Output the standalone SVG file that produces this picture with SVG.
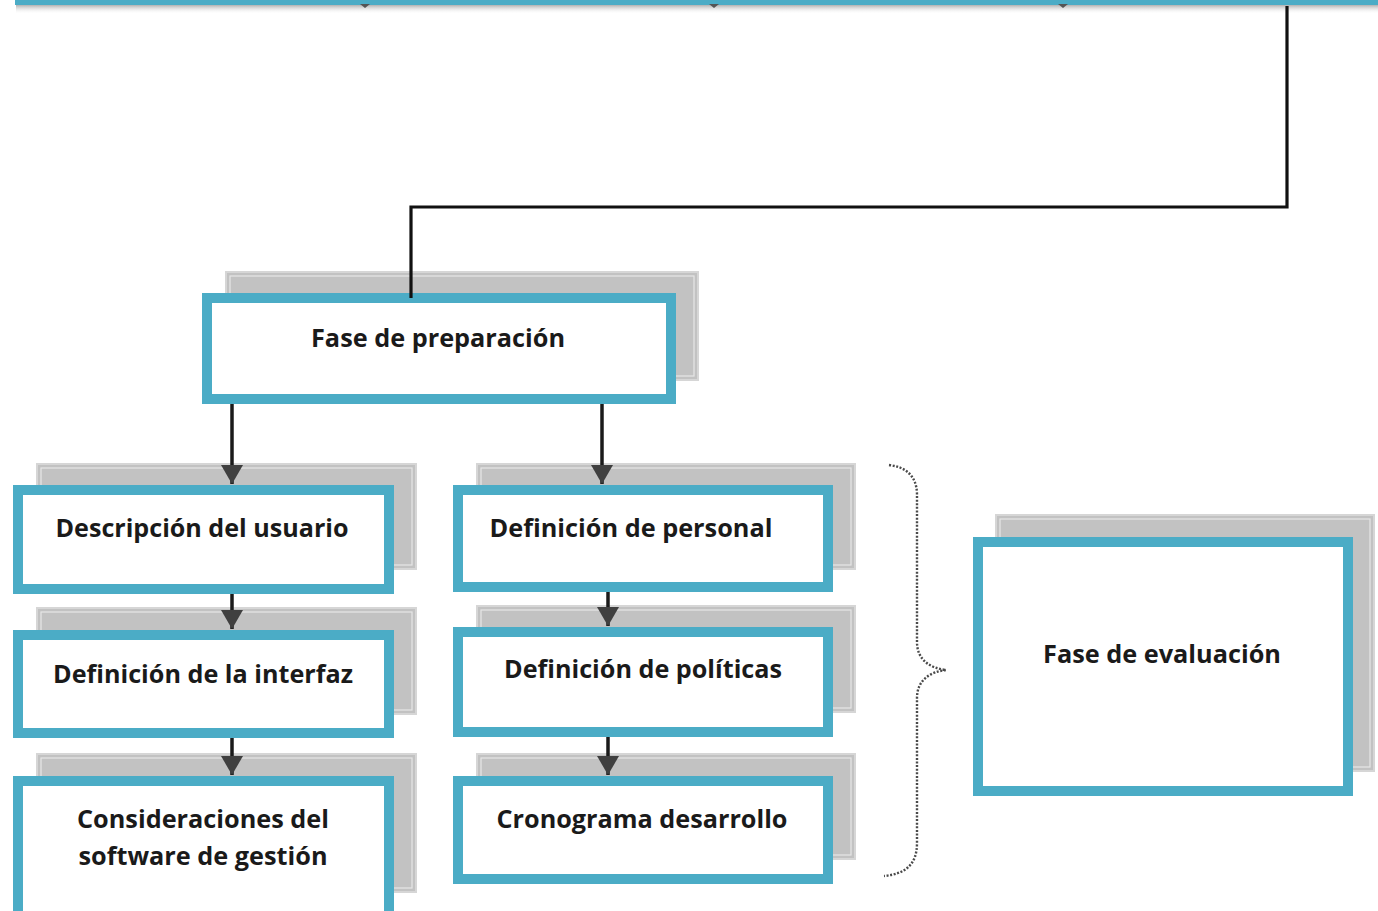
<svg xmlns="http://www.w3.org/2000/svg" width="1378" height="911" viewBox="0 0 1378 911">
<defs>
<style>
.sh{fill:#c2c2c2;stroke:#d6d6d6;stroke-width:2}
.shi{fill:none;stroke:#e6e6e6;stroke-width:1.2}
.bx{fill:#ffffff;stroke:#4bacc6;stroke-width:10}
.t{font-family:"Open Sans","Noto Sans","Liberation Sans",sans-serif;font-weight:700;font-size:25px;fill:#1a1a1a;text-anchor:middle}
.ln{fill:none;stroke:#111111;stroke-width:3.2}
.ar{fill:none;stroke:#1a1a1a;stroke-width:3.5}
.br{fill:none;stroke:#4a4a4a;stroke-width:2.4;stroke-dasharray:2 1.6}
</style>
<marker id="ah" markerUnits="userSpaceOnUse" markerWidth="22" markerHeight="24" viewBox="0 0 22 24" refX="20" refY="12" orient="auto">
<path d="M1,1 L20,12 L1,23 Z" fill="#404040"/>
</marker>
<linearGradient id="tg" x1="0" y1="0" x2="0" y2="1">
<stop offset="0" stop-color="#8a8a8a"/>
<stop offset="1" stop-color="#ffffff" stop-opacity="0"/>
</linearGradient>
</defs>
<rect width="1378" height="911" fill="#ffffff"/>

<g id="top-node">
<rect x="16" y="3" width="1362" height="11" fill="url(#tg)"/>
<rect x="18" y="-60" width="1380" height="62" fill="#ffffff" stroke="#4bacc6" stroke-width="6"/>
<path d="M360,4 L370,4 L365,8 Z M709,4 L719,4 L714,8 Z M1058,4 L1068,4 L1063,8 Z" fill="#555555"/>
</g>

<g id="fase-preparacion">
<rect class="sh" x="226" y="272" width="472" height="108"/>
<rect class="shi" x="230" y="276" width="464" height="100"/>
<rect class="bx" x="207" y="298" width="464" height="101"/>
<text class="t" x="438" y="347" textLength="254" lengthAdjust="spacingAndGlyphs">Fase de preparación</text>
</g>

<g id="descripcion-usuario">
<rect class="sh" x="37" y="464" width="379" height="105"/>
<rect class="shi" x="41" y="468" width="371" height="97"/>
<rect class="bx" x="18" y="490" width="371" height="99"/>
<text class="t" x="202" y="537" textLength="293" lengthAdjust="spacingAndGlyphs">Descripción del usuario</text>
</g>

<g id="definicion-interfaz">
<rect class="sh" x="37" y="608" width="379" height="106"/>
<rect class="shi" x="41" y="612" width="371" height="98"/>
<rect class="bx" x="18" y="635" width="371" height="98"/>
<text class="t" x="203" y="683" textLength="300" lengthAdjust="spacingAndGlyphs">Definición de la interfaz</text>
</g>

<g id="consideraciones-software">
<rect class="sh" x="37" y="754" width="379" height="138"/>
<rect class="shi" x="41" y="758" width="371" height="130"/>
<rect class="bx" x="18" y="781" width="371" height="140"/>
<text class="t" x="203" y="828" textLength="252" lengthAdjust="spacingAndGlyphs">Consideraciones del</text>
<text class="t" x="203" y="865" textLength="249" lengthAdjust="spacingAndGlyphs">software de gestión</text>
</g>

<g id="definicion-personal">
<rect class="sh" x="477" y="464" width="378" height="105"/>
<rect class="shi" x="481" y="468" width="370" height="97"/>
<rect class="bx" x="458" y="490" width="370" height="97"/>
<text class="t" x="631" y="537" textLength="283" lengthAdjust="spacingAndGlyphs">Definición de personal</text>
</g>

<g id="definicion-politicas">
<rect class="sh" x="477" y="606" width="378" height="106"/>
<rect class="shi" x="481" y="610" width="370" height="98"/>
<rect class="bx" x="458" y="632" width="370" height="100"/>
<text class="t" x="643" y="678" textLength="278" lengthAdjust="spacingAndGlyphs">Definición de políticas</text>
</g>

<g id="cronograma-desarrollo">
<rect class="sh" x="477" y="754" width="378" height="105"/>
<rect class="shi" x="481" y="758" width="370" height="97"/>
<rect class="bx" x="458" y="781" width="370" height="98"/>
<text class="t" x="642" y="828" textLength="291" lengthAdjust="spacingAndGlyphs">Cronograma desarrollo</text>
</g>

<g id="fase-evaluacion">
<rect class="sh" x="996" y="515" width="378" height="256"/>
<rect class="shi" x="1000" y="519" width="370" height="248"/>
<rect class="bx" x="978" y="542" width="370" height="249"/>
<text class="t" x="1162" y="663" textLength="238" lengthAdjust="spacingAndGlyphs">Fase de evaluación</text>
</g>

<g id="connectors">
<polyline class="ln" points="1287,6 1287,207 411,207 411,298"/>
<line class="ar" x1="232" y1="404" x2="232" y2="484" marker-end="url(#ah)"/>
<line class="ar" x1="602" y1="404" x2="602" y2="484" marker-end="url(#ah)"/>
<line class="ar" x1="232" y1="594" x2="232" y2="629" marker-end="url(#ah)"/>
<line class="ar" x1="232" y1="738" x2="232" y2="775" marker-end="url(#ah)"/>
<line class="ar" x1="608" y1="592" x2="608" y2="626" marker-end="url(#ah)"/>
<line class="ar" x1="608" y1="737" x2="608" y2="775" marker-end="url(#ah)"/>
<path class="br" d="M889,465 C905,467 917,475 917,495 L917,642 C917,660 930,668 946,670 C930,672 917,680 917,698 L917,843 C917,865 905,874 884,876"/>
</g>
</svg>
